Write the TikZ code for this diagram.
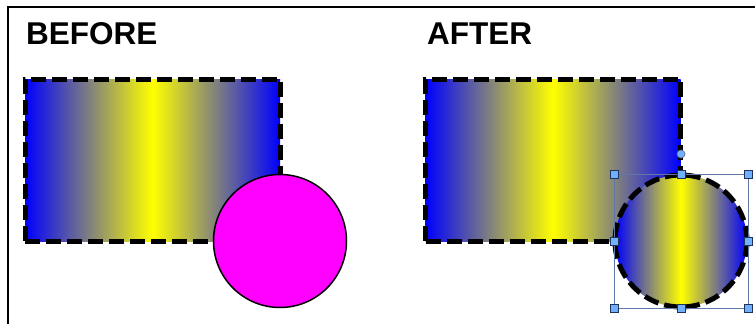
\documentclass[tikz,border=0pt]{standalone}
\usepackage{fontspec}
\setmainfont{Liberation Sans}
\begin{document}
\begin{tikzpicture}[x=1pt,y=-1pt,
  gradfill/.style={left color=blue,right color=blue,middle color=yellow},
  dashborder/.style={draw=black,line width=5pt,dash pattern=on 15pt off 6pt},
  recbox/.style={gradfill,dashborder,inner sep=0pt,minimum width=255pt,minimum height=162pt,rectangle},
  title/.style={font=\bfseries\fontsize{31.5}{37}\selectfont,anchor=base west,inner sep=0pt},
  selline/.style={draw=selblue,line width=0.9pt},
  handle/.style={draw=handleborder,fill=handlefill,line width=1pt,minimum size=8pt,inner sep=0pt,rectangle},
  rhandle/.style={draw=handleborder!70,fill=handlefill,line width=0.7pt,minimum size=8pt,inner sep=0pt,circle}]
\definecolor{selblue}{RGB}{96,120,168}
\definecolor{handlefill}{RGB}{112,176,255}
\definecolor{handleborder}{RGB}{30,50,90}
\definecolor{pinkfill}{RGB}{255,0,255}
\useasboundingbox (0,0) rectangle (755,324);
\fill[white] (0,0) rectangle (755,324);
% frame
\draw[line width=1.6pt] (8,324) coordinate (fbl) -- (8,7) coordinate (ftl) -- (755,7) coordinate (ftr);
% titles
\node[title] (tb) at (26,44) {BEFORE};
\node[title] (ta) at (427,44) {AFTER};
% before
\node[recbox] (rb) at (152.5,160) {};
\node[circle,draw=black,line width=1.5pt,fill=pinkfill,minimum size=133pt,inner sep=0pt] (cb) at (280,241) {};
% after
\node[recbox] (ra) at (553,160) {};
\node[circle,gradfill,dashborder,minimum size=132pt,inner sep=0pt] (ca) at (681,241) {};
% selection frame
\coordinate (s1) at (614,174);
\coordinate (s2) at (748,308);
\draw[selline] (s1) rectangle (s2);
\foreach \n/\x/\y in {h1/614/174,h2/681/174,h3/748/174,h4/614/241,h5/748/241,h6/614/308,h7/681/308,h8/748/308}{
  \node[handle] (\n) at (\x,\y) {};
}
\node[rhandle] (hr) at (681,154) {};
\end{tikzpicture}
\end{document}
